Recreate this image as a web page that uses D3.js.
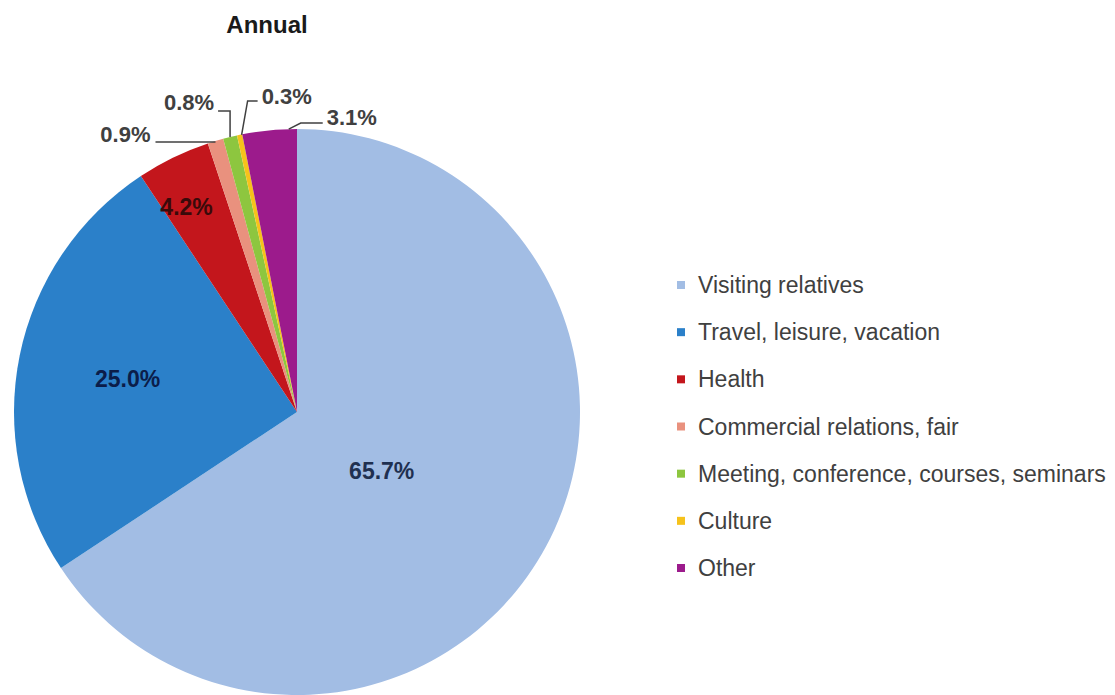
<!DOCTYPE html>
<html>
<head>
<meta charset="utf-8">
<script src="https://cdn.jsdelivr.net/npm/d3@7"></script>
<style>
  body { margin: 0; background: #fff; }
  svg { display: block; font-family: Arial, "Liberation Sans", sans-serif; }
</style>
</head>
<body>
<div id="chart-area"></div>
<script>
// Trip purpose shares, annual
const categories = ['Visiting relatives', 'Travel, leisure, vacation', 'Health',
  'Commercial relations, fair', 'Meeting, conference, courses, seminars', 'Culture', 'Other']
const shares = [65.7, 25.0, 4.2, 0.9, 0.8, 0.3, 3.1]
const colors = ['#a2bde4', '#2b80c9', '#c3161c', '#e9917e', '#8dc63f', '#f6c21b', '#9c1b8c']

const WIDTH = 1115
const HEIGHT = 695
const CX = 297
const CY = 412
const R = 283

// label layout (not data): inside labels placed on a radius, outside ones get leader lines
const insideLayout = {
  0: { r: 0.4, dx: -15, dy: 5, fill: '#1f3050' },
  1: { r: 0.6, dx: -3, dy: 1, fill: '#0b1d4a' },
  2: { r: 0.82, dx: -9, dy: 4, fill: '#3a0a0a' }
}
const outsideLayout = {
  3: { t: 0.5, tx: -65, ty: -7, anchor: 'end', path: [[-60, 1], [0, 1]] },
  4: { t: 0.5, tx: -16, ty: -35, anchor: 'end', path: [[-12, -26], [0, -26], [0, 0]] },
  5: { t: 0.5, tx: 22, ty: -38, anchor: 'start', path: [[18, -34], [8, -34], [2, 0]] },
  6: { t: 0.85, tx: 38, ty: -12, anchor: 'start', path: [[34, -6], [12, -6], [0, 0]] }
}

const svg = d3.select('#chart-area').append('svg')
  .attr('width', WIDTH)
  .attr('height', HEIGHT)

// title
svg.append('text')
  .attr('x', 267)
  .attr('y', 33)
  .attr('text-anchor', 'middle')
  .attr('font-size', '24px')
  .attr('font-weight', 'bold')
  .attr('fill', '#1a1a1a')
  .text('Annual')

const g = svg.append('g')
  .attr('transform', `translate(${CX}, ${CY})`)

const pie = d3.pie().sort(null).value(d => d)
const arcs = pie(shares)

const arc = d3.arc().innerRadius(0).outerRadius(R)

g.selectAll('path.slice')
  .data(arcs)
  .enter().append('path')
  .attr('class', 'slice')
  .attr('d', arc)
  .attr('fill', (d, i) => colors[i])

// inside labels
arcs.forEach((d, i) => {
  const lay = insideLayout[i]
  if (!lay) return
  const c = d3.arc().innerRadius(R * lay.r).outerRadius(R * lay.r).centroid(d)
  g.append('text')
    .attr('x', c[0] + lay.dx)
    .attr('y', c[1] + lay.dy)
    .attr('text-anchor', 'middle')
    .attr('dominant-baseline', 'central')
    .attr('font-size', '23px')
    .attr('font-weight', 'bold')
    .attr('fill', lay.fill)
    .text(d.data.toFixed(1) + '%')
})

// outside labels with leader lines
const line = d3.line()
arcs.forEach((d, i) => {
  const lay = outsideLayout[i]
  if (!lay) return
  const a = d.startAngle + (d.endAngle - d.startAngle) * lay.t
  const ex = R * Math.sin(a)
  const ey = -R * Math.cos(a)
  g.append('path')
    .attr('d', line(lay.path.map(p => [ex + p[0], ey + p[1]])))
    .attr('fill', 'none')
    .attr('stroke', '#404040')
    .attr('stroke-width', 1.5)
  g.append('text')
    .attr('x', ex + lay.tx)
    .attr('y', ey + lay.ty)
    .attr('text-anchor', lay.anchor)
    .attr('dominant-baseline', 'central')
    .attr('font-size', '22px')
    .attr('font-weight', 'bold')
    .attr('fill', '#404040')
    .text(d.data.toFixed(1) + '%')
})

// legend
const legendY = d3.scalePoint()
  .domain(categories)
  .range([285, 568])

const legend = svg.append('g')
  .selectAll('g')
  .data(categories)
  .enter().append('g')
  .attr('transform', d => `translate(677, ${legendY(d)})`)

legend.append('rect')
  .attr('x', 0)
  .attr('y', -4)
  .attr('width', 8)
  .attr('height', 8)
  .attr('fill', (d, i) => colors[i])

legend.append('text')
  .attr('x', 21)
  .attr('y', 0)
  .attr('dominant-baseline', 'central')
  .attr('font-size', '23px')
  .attr('fill', '#404040')
  .text(d => d)
</script>
</body>
</html>
